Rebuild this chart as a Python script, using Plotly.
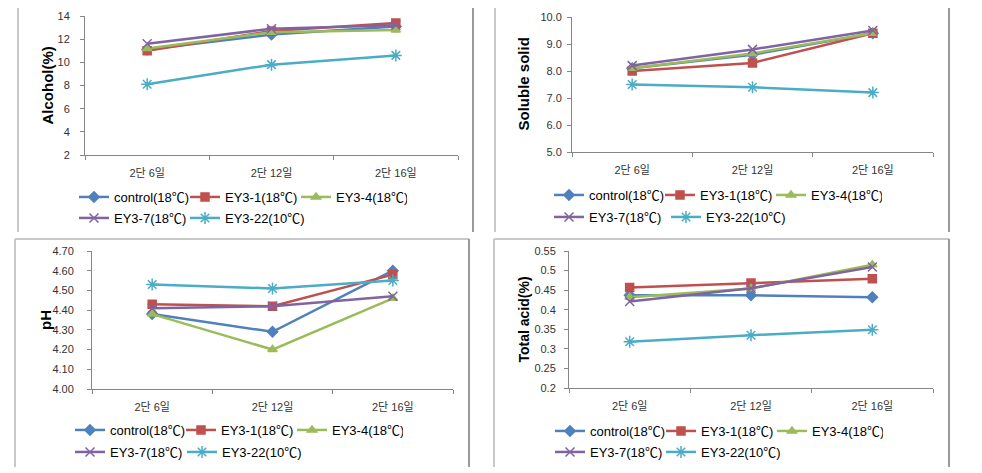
import plotly.graph_objects as go

W, H = 982, 473
OFF = 8  # page body margin offset compensation

categories = ["2단 6일", "2단 12일", "2단 16일"]
series_names = ["control(18℃)", "EY3-1(18℃)", "EY3-4(18℃)", "EY3-7(18℃)", "EY3-22(10℃)"]

alcohol = {
    "control(18℃)": [11.1, 12.4, 13.1],
    "EY3-1(18℃)": [11.0, 12.7, 13.4],
    "EY3-4(18℃)": [11.2, 12.6, 12.8],
    "EY3-7(18℃)": [11.6, 12.9, 13.2],
    "EY3-22(10℃)": [8.1, 9.8, 10.6],
}
soluble_solid = {
    "control(18℃)": [8.1, 8.6, 9.4],
    "EY3-1(18℃)": [8.0, 8.3, 9.4],
    "EY3-4(18℃)": [8.1, 8.65, 9.4],
    "EY3-7(18℃)": [8.2, 8.8, 9.5],
    "EY3-22(10℃)": [7.5, 7.4, 7.2],
}
ph = {
    "control(18℃)": [4.38, 4.29, 4.60],
    "EY3-1(18℃)": [4.43, 4.42, 4.58],
    "EY3-4(18℃)": [4.38, 4.20, 4.46],
    "EY3-7(18℃)": [4.41, 4.42, 4.47],
    "EY3-22(10℃)": [4.53, 4.51, 4.55],
}
total_acid = {
    "control(18℃)": [0.437, 0.437, 0.432],
    "EY3-1(18℃)": [0.457, 0.468, 0.479],
    "EY3-4(18℃)": [0.432, 0.454, 0.515],
    "EY3-7(18℃)": [0.421, 0.455, 0.509],
    "EY3-22(10℃)": [0.318, 0.335, 0.349],
}

alcohol_ticks = [2, 4, 6, 8, 10, 12, 14]
alcohol_ticktext = ["2", "4", "6", "8", "10", "12", "14"]
solid_ticks = [5.0, 6.0, 7.0, 8.0, 9.0, 10.0]
solid_ticktext = ["5.0", "6.0", "7.0", "8.0", "9.0", "10.0"]
ph_ticks = [4.00, 4.10, 4.20, 4.30, 4.40, 4.50, 4.60, 4.70]
ph_ticktext = ["4.00", "4.10", "4.20", "4.30", "4.40", "4.50", "4.60", "4.70"]
acid_ticks = [0.2, 0.25, 0.3, 0.35, 0.4, 0.45, 0.5, 0.55]
acid_ticktext = ["0.2", "0.25", "0.3", "0.35", "0.4", "0.45", "0.5", "0.55"]

colors = ["#4F81BD", "#C0504D", "#9BBB59", "#8064A2", "#4BACC6"]
symbols = ["diamond", "square", "triangle-up", "x-thin-open", "asterisk-open"]
msizes = [8, 8, 8, 9, 10]

FONT = "Liberation Sans, Noto Sans CJK KR, sans-serif"


def px_x(p):
    return (p - OFF) / W


def px_y(p):
    return 1 - (p - OFF) / H


panels = [
    dict(data=alcohol, tv=alcohol_ticks, tt=alcohol_ticktext, rng=[2, 14],
         box=(85, 458, 16, 155), title="Alcohol(%)", tx=47, ts=15,
         leg1=(74, 197, 113), leg2=(74, 218, 113), stand=8),
    dict(data=soluble_solid, tv=solid_ticks, tt=solid_ticktext, rng=[5, 10],
         box=(572, 933, 17, 152), title="Soluble solid", tx=523, ts=15,
         leg1=(549, 195, 113), leg2=(549, 217, 119), stand=3),
    dict(data=ph, tv=ph_ticks, tt=ph_ticktext, rng=[4.0, 4.7],
         box=(92, 453, 251, 389), title="pH", tx=45, ts=15,
         leg1=(70, 430, 113), leg2=(70, 452, 114), stand=11),
    dict(data=total_acid, tv=acid_ticks, tt=acid_ticktext, rng=[0.2, 0.55],
         box=(569, 933, 251, 388), title="Total acid(%)", tx=523, ts=14,
         leg1=(550, 431, 113), leg2=(550, 452, 113), stand=6),
]

fig = go.Figure()
layout = {}
annotations = []
shapes = []

for i, p in enumerate(panels):
    n = i + 1
    sx = "" if n == 1 else str(n)
    l, r, t, b = p["box"]
    leg_a = "legend" if n == 1 else f"legend{2 * n - 1}"
    leg_b = f"legend{2 * n}"
    for j, name in enumerate(series_names):
        fig.add_trace(go.Scatter(
            x=categories, y=p["data"][name], name=name,
            mode="lines+markers",
            line=dict(color=colors[j], width=2.5),
            marker=dict(symbol=symbols[j], size=msizes[j], color=colors[j],
                        line=dict(color=colors[j], width=1.5)),
            xaxis="x" + sx, yaxis="y" + sx,
            legend=leg_a if j < 3 else leg_b,
            showlegend=True,
        ))
    # blank spacer entry so the last visible legend label is not clipped
    fig.add_trace(go.Scatter(
        x=[None], y=[None], name=" ", mode="lines",
        line=dict(width=0, color="rgba(0,0,0,0)"),
        xaxis="x" + sx, yaxis="y" + sx, legend=leg_b,
        showlegend=True, hoverinfo="skip",
    ))
    layout["xaxis" + sx] = dict(
        domain=[px_x(l), px_x(r)], anchor="y" + sx,
        type="category", range=[-0.5, 2.5],
        showline=True, linecolor="#868686", linewidth=1,
        ticks="outside", tickson="boundaries", ticklen=4, tickcolor="#868686",
        showgrid=False, zeroline=False,
        tickfont=dict(family=FONT, size=11, color="#333333"),
        ticklabelstandoff=8,
    )
    layout["yaxis" + sx] = dict(
        domain=[px_y(b), px_y(t)], anchor="x" + sx,
        range=p["rng"], tickvals=p["tv"], ticktext=p["tt"],
        showline=True, linecolor="#868686", linewidth=1,
        ticks="outside", ticklen=4, tickcolor="#868686",
        showgrid=False, zeroline=False,
        tickfont=dict(family=FONT, size=11, color="#333333"),
        ticklabelstandoff=p["stand"],
    )
    annotations.append(dict(
        text="<b>" + p["title"] + "</b>", textangle=-90,
        xref="paper", x=px_x(p["tx"]), xanchor="center",
        yref="paper", y=px_y((t + b) / 2), yanchor="middle",
        showarrow=False, font=dict(family=FONT, size=p["ts"], color="#000000"),
    ))
    for key, (lx, ly, sp) in ((leg_a, p["leg1"]), (leg_b, p["leg2"])):
        layout[key] = dict(
            orientation="h", x=px_x(lx), y=px_y(ly), xanchor="left", yanchor="middle",
            entrywidth=sp - 47, entrywidthmode="pixels", itemwidth=30,
            bgcolor="rgba(0,0,0,0)", borderwidth=0,
            font=dict(family=FONT, size=13, color="#000000"),
            tracegroupgap=0,
        )

light = "#C8C8C8"
dark = "#9A9A9A"
frames = [
    (18, 473, 6, 232),
    (495, 949, 6, 232),
    (15, 469, 239, 467),
    (494, 949, 239, 467),
]
for (fl, fr, ft, fb) in frames:
    shapes.append(dict(type="line", xref="paper", yref="paper",
                       x0=px_x(fl), x1=px_x(fr), y0=px_y(ft), y1=px_y(ft),
                       line=dict(color=light, width=2)))
    shapes.append(dict(type="line", xref="paper", yref="paper",
                       x0=px_x(fl), x1=px_x(fl), y0=px_y(ft), y1=px_y(fb),
                       line=dict(color=light, width=2)))
    shapes.append(dict(type="line", xref="paper", yref="paper",
                       x0=px_x(fr), x1=px_x(fr), y0=px_y(ft), y1=px_y(fb),
                       line=dict(color=dark, width=2)))

fig.update_layout(
    width=W, height=H,
    margin=dict(l=0, r=0, t=0, b=0, autoexpand=False),
    paper_bgcolor="white", plot_bgcolor="white",
    font=dict(family=FONT, size=12, color="#000000"),
    annotations=annotations, shapes=shapes,
    **layout,
)

fig.write_html("out.html")
